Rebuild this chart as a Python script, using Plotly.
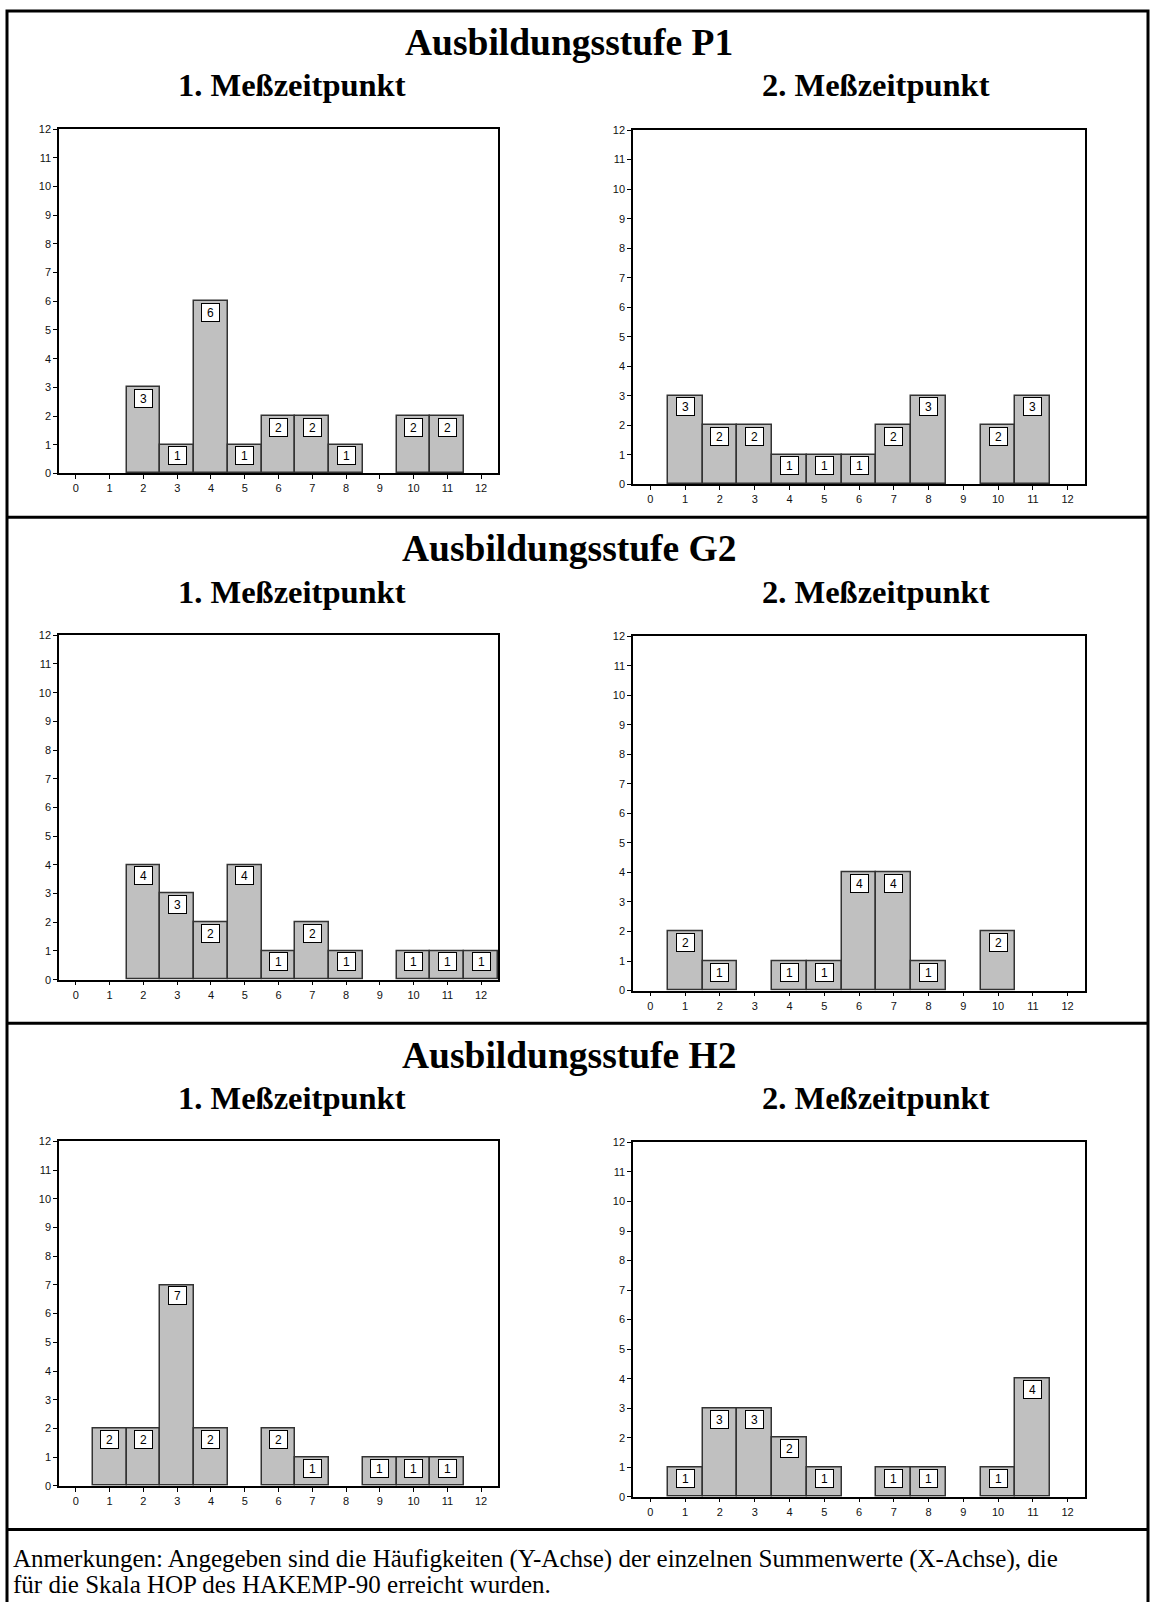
import plotly.graph_objects as go

W, H = 1151, 1602

# ---- data ----
x_vals = list(range(13))
x_tick_labels = [str(i) for i in range(13)]
y_tick_vals = list(range(13))

p1_t1 = [0, 0, 3, 1, 6, 1, 2, 2, 1, 0, 2, 2, 0]
p1_t2 = [0, 3, 2, 2, 1, 1, 1, 2, 3, 0, 2, 3, 0]
g2_t1 = [0, 0, 4, 3, 2, 4, 1, 2, 1, 0, 1, 1, 1]
g2_t2 = [0, 2, 1, 0, 1, 1, 4, 4, 1, 0, 2, 0, 0]
h2_t1 = [0, 2, 2, 7, 2, 0, 2, 1, 0, 1, 1, 1, 0]
h2_t2 = [0, 1, 3, 3, 2, 1, 0, 1, 1, 0, 1, 4, 0]

group_titles = ["Ausbildungsstufe P1", "Ausbildungsstufe G2", "Ausbildungsstufe H2"]
time_titles = ["1. Meßzeitpunkt", "2. Meßzeitpunkt"]
note_lines = [
    "Anmerkungen: Angegeben sind die Häufigkeiten (Y-Achse) der einzelnen Summenwerte (X-Achse), die",
    "für die Skala HOP des HAKEMP-90 erreicht wurden.",
]

series = [p1_t1, p1_t2, g2_t1, g2_t2, h2_t1, h2_t2]

# ---- layout helpers (pixel -> paper) ----
def fx(px):
    return px / W

def fy(py):
    return 1 - py / H

PANEL_H = 510
left_box = (59, 498, 124, 471)    # x0, x1, ytop, ybottom
right_box = (633, 1085, 125, 482)

fig = go.Figure()
annotations = []
shapes = []
layout_axes = {}

SERIF = "Liberation Serif"
SANS = "Liberation Sans"

for i, vals in enumerate(series):
    n = i + 1
    panel = i // 2
    col = i % 2
    box = left_box if col == 0 else right_box
    off = panel * PANEL_H
    xa = "x" if n == 1 else f"x{n}"
    ya = "y" if n == 1 else f"y{n}"
    xs = [x for x, v in zip(x_vals, vals) if v > 0]
    ys = [v for v in vals if v > 0]
    fig.add_trace(go.Bar(
        x=xs, y=ys, width=1, xaxis=xa, yaxis=ya,
        marker=dict(color="#c0c0c0", line=dict(color="#333333", width=1.5)),
        showlegend=False, hoverinfo="skip",
    ))
    for x, v in zip(xs, ys):
        annotations.append(dict(
            x=x, y=v, xref=xa, yref=ya, text=str(v), showarrow=False,
            yanchor="top", yshift=-1.5, bgcolor="white", bordercolor="black",
            borderwidth=1, borderpad=1, width=15, height=15,
            font=dict(family=SANS, size=12, color="black"),
        ))
    xname = "xaxis" if n == 1 else f"xaxis{n}"
    yname = "yaxis" if n == 1 else f"yaxis{n}"
    layout_axes[xname] = dict(
        domain=[fx(box[0]), fx(box[1])], anchor=ya, range=[-0.5, 12.5],
        tickmode="array", tickvals=x_vals, ticktext=x_tick_labels,
        showgrid=False, zeroline=False, showline=True, mirror=True,
        linecolor="black", linewidth=1.5, ticks="outside", ticklen=4,
        tickcolor="black", tickfont=dict(family=SANS, size=11, color="#111"),
        fixedrange=True,
    )
    layout_axes[yname] = dict(
        domain=[fy(box[3] + off), fy(box[2] + off)], anchor=xa, range=[0, 12],
        tickmode="array", tickvals=y_tick_vals,
        showgrid=False, zeroline=False, showline=True, mirror=True,
        linecolor="black", linewidth=1.5, ticks="outside", ticklen=4,
        tickcolor="black", tickfont=dict(family=SANS, size=11, color="#111"),
        fixedrange=True,
    )

# panel titles
for p, title in enumerate(group_titles):
    off = p * PANEL_H
    annotations.append(dict(
        x=fx(569), y=fy(37 + off), xref="paper", yref="paper", text=f"<b>{title}</b>",
        showarrow=False, xanchor="center", yanchor="middle",
        font=dict(family=SERIF, size=37.5, color="black"),
    ))
    for c, (tt, cx) in enumerate(zip(time_titles, [292, 876])):
        annotations.append(dict(
            x=fx(cx), y=fy(80 + off), xref="paper", yref="paper", text=f"<b>{tt}</b>",
            showarrow=False, xanchor="center", yanchor="middle",
            font=dict(family=SERIF, size=32.5, color="black"),
        ))

# footnote
for k, (line, cy) in enumerate(zip(note_lines, [1565, 1590])):
    annotations.append(dict(
        x=fx(11), y=fy(cy), xref="paper", yref="paper", text=line,
        showarrow=False, xanchor="left", yanchor="middle", align="left",
        font=dict(family=SERIF, size=25, color="black"),
    ))

# frame and dividers
shapes.append(dict(type="rect", xref="paper", yref="paper",
                   x0=fx(7), x1=fx(1148), y0=fy(1612), y1=fy(5),
                   line=dict(color="black", width=3)))
for yy in [515, 1025, 1535]:
    shapes.append(dict(type="line", xref="paper", yref="paper",
                       x0=fx(7), x1=fx(1148), y0=fy(yy), y1=fy(yy),
                       line=dict(color="black", width=3)))

fig.update_layout(
    width=W, height=H, margin=dict(l=0, r=0, t=0, b=0),
    paper_bgcolor="white", plot_bgcolor="white",
    annotations=annotations, shapes=shapes, bargap=0,
    **layout_axes,
)

fig.write_html("out.html", post_script="document.body.style.margin='0';",
               config={"displayModeBar": False})
